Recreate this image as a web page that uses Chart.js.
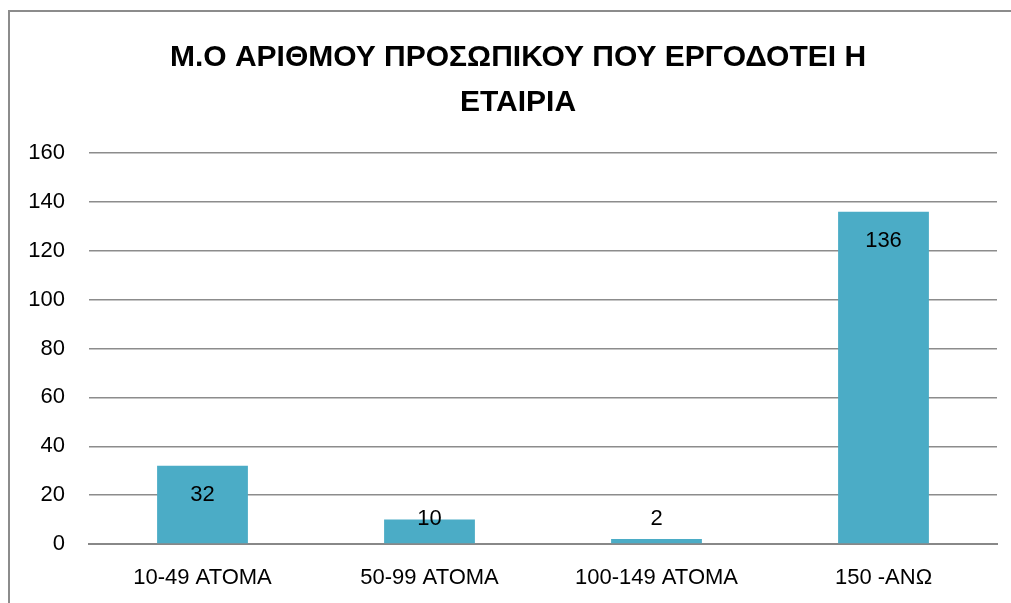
<!DOCTYPE html>
<html>
<head>
<meta charset="utf-8">
<script src="https://cdn.jsdelivr.net/npm/chart.js@4.4.0/dist/chart.umd.min.js"></script>
<style>
  html, body { margin: 0; padding: 0; background: #fff; }
  #wrap { position: relative; width: 1011px; height: 603px; overflow: hidden; }
  #frame { position: absolute; left: 8px; top: 10px; width: 1100px; height: 700px;
           border-left: 2px solid #8c8c8c; border-top: 2px solid #8c8c8c; }
  canvas { position: absolute; left: 0; top: 0; }
</style>
</head>
<body>
<div id="wrap">
  <div id="frame"></div>
  <canvas id="chart" width="1011" height="603"></canvas>
</div>
<script>
// data
const categories = ['10-49 ΑΤΟΜΑ', '50-99 ΑΤΟΜΑ', '100-149 ΑΤΟΜΑ', '150 -ΑΝΩ'];
const values = [32, 10, 2, 136];
const titleLines = ['Μ.Ο ΑΡΙΘΜΟΥ ΠΡΟΣΩΠΙΚΟΥ ΠΟΥ ΕΡΓΟΔΟΤΕΙ Η', 'ΕΤΑΙΡΙΑ'];

const fontFamily = "'Liberation Sans', Arial, sans-serif";

// value labels, "inside end" like Excel, pushed up when the bar is too short
const valueLabels = {
  id: 'valueLabels',
  afterDatasetsDraw(chart) {
    const ctx = chart.ctx;
    const meta = chart.getDatasetMeta(0);
    const base = chart.scales.y.getPixelForValue(0);
    ctx.save();
    ctx.font = '22px ' + fontFamily;
    ctx.fillStyle = '#000';
    ctx.textAlign = 'center';
    ctx.textBaseline = 'middle';
    meta.data.forEach((bar, i) => {
      const y = Math.min(bar.y + 29, base - 25);
      ctx.fillText(values[i], bar.x, y);
    });
    ctx.restore();
  }
};

// title is centred on the chart frame, not on the plot
const frameTitle = {
  id: 'frameTitle',
  afterDraw(chart) {
    const ctx = chart.ctx;
    ctx.save();
    ctx.font = 'bold 30px ' + fontFamily;
    ctx.fillStyle = '#000';
    ctx.textAlign = 'center';
    ctx.textBaseline = 'middle';
    titleLines.forEach((line, i) => ctx.fillText(line, 518, 58 + i * 45));
    ctx.restore();
  }
};

new Chart(document.getElementById('chart'), {
  type: 'bar',
  data: {
    labels: categories,
    datasets: [{
      data: values,
      backgroundColor: '#4bacc6',
      categoryPercentage: 1,
      barPercentage: 0.4
    }]
  },
  options: {
    responsive: false,
    animation: false,
    layout: { padding: { left: 0, right: 14, top: 153, bottom: 0 } },
    plugins: {
      legend: { display: false },
      tooltip: { enabled: false },
      title: { display: false }
    },
    scales: {
      x: {
        grid: { display: false },
        border: { color: '#888', width: 2 },
        ticks: { color: '#000', font: { family: fontFamily, size: 22 }, padding: 13 },
        afterFit(scale) { scale.height = 59; }
      },
      y: {
        min: 0,
        max: 160,
        ticks: { stepSize: 20, color: '#000', font: { family: fontFamily, size: 22 }, padding: 24 },
        grid: { color: '#8c8c8c', lineWidth: 1.5, drawTicks: false },
        border: { display: false },
        afterFit(scale) { scale.width = 89; }
      }
    }
  },
  plugins: [valueLabels, frameTitle]
});
</script>
</body>
</html>
